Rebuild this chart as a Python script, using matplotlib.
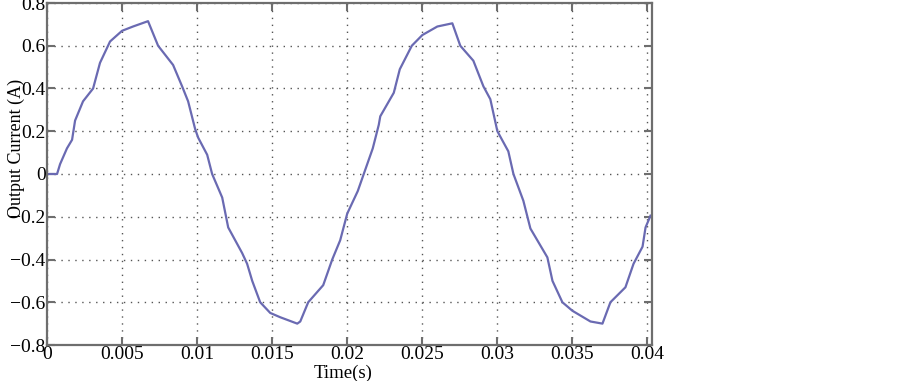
"""Output current waveform over two fundamental periods."""

import matplotlib

matplotlib.use("Agg")
import matplotlib.pyplot as plt

LINE = "#6a6ab2"
GRID = "#555555"
FRAME = "#6e6e6e"

time_s = [
    0.0, 0.00067, 0.00087, 0.00133, 0.00167, 0.00187, 0.0024, 0.00307, 0.00353,
    0.0042, 0.005, 0.00573, 0.00673, 0.0074, 0.0084, 0.009, 0.0094, 0.00987,
    0.01007, 0.01067, 0.011, 0.01167, 0.01207, 0.013, 0.01333, 0.01367, 0.0142,
    0.01487, 0.01553, 0.01667, 0.01687, 0.0174, 0.0184, 0.019, 0.01953, 0.02,
    0.0204, 0.0207, 0.0211, 0.0217, 0.0221, 0.0222, 0.0231, 0.0235, 0.0243,
    0.025, 0.026, 0.027, 0.02753, 0.0284, 0.02907, 0.02953, 0.03, 0.03073,
    0.03107, 0.03173, 0.0322, 0.03333, 0.03367, 0.03433, 0.035, 0.0362, 0.037,
    0.03753, 0.03853, 0.03907, 0.03967, 0.03987, 0.0402,
]
current_a = [
    0.0, 0.0, 0.046, 0.12, 0.16, 0.25, 0.34, 0.40, 0.52,
    0.62, 0.67, 0.69, 0.715, 0.60, 0.51, 0.41, 0.34, 0.21,
    0.17, 0.09, 0.0, -0.11, -0.25, -0.37, -0.42, -0.50, -0.60,
    -0.65, -0.67, -0.70, -0.69, -0.60, -0.52, -0.40, -0.31, -0.185,
    -0.125, -0.08, 0.0, 0.12, 0.23, 0.27, 0.38, 0.49, 0.60,
    0.65, 0.69, 0.705, 0.60, 0.53, 0.41, 0.35, 0.20, 0.106,
    0.0, -0.125, -0.255, -0.39, -0.50, -0.60, -0.64, -0.69, -0.70,
    -0.60, -0.53, -0.42, -0.34, -0.25, -0.195,
]

x_ticks = [0, 0.005, 0.01, 0.015, 0.02, 0.025, 0.03, 0.035, 0.04]
x_tick_labels = ["0", "0.005", "0.01", "0.015", "0.02", "0.025", "0.03", "0.035", "0.04"]
y_ticks = [-0.8, -0.6, -0.4, -0.2, 0, 0.2, 0.4, 0.6, 0.8]
y_tick_labels = ["\u22120.8", "\u22120.6", "\u22120.4", "\u22120.2", "0", "0.2", "0.4", "0.6", "0.8"]

plt.rcParams["font.family"] = ["Liberation Serif", "DejaVu Serif"]

fig = plt.figure(figsize=(9.03, 3.81), dpi=100, facecolor="white")
ax = fig.add_axes([47 / 903, 1 - 345 / 381, (652 - 47) / 903, (345 - 3) / 381])

ax.plot(time_s, current_a, color=LINE, linewidth=1.6)
ax.set_xlim(0, 0.0403)
ax.set_ylim(-0.8, 0.8)
ax.set_xticks(x_ticks, labels=x_tick_labels)
ax.set_yticks(y_ticks, labels=y_tick_labels)
ax.grid(True, color=GRID, linestyle=(0, (1, 4)), linewidth=1.0)
ax.tick_params(direction="in", length=6, width=1.5, color=FRAME, labelsize=14,
               top=True, right=True, pad=1)
for spine in ax.spines.values():
    spine.set_color(FRAME)
    spine.set_linewidth(1.6)

fig.text(16 / 903, 1 - 148 / 381, "Output Current (A)", rotation=90,
         ha="center", va="center", fontsize=13)
fig.text(343 / 903, 1 - 373 / 381, "Time(s)", ha="center", va="center", fontsize=13.5)

fig.savefig("out.png", dpi=100, facecolor="white")
